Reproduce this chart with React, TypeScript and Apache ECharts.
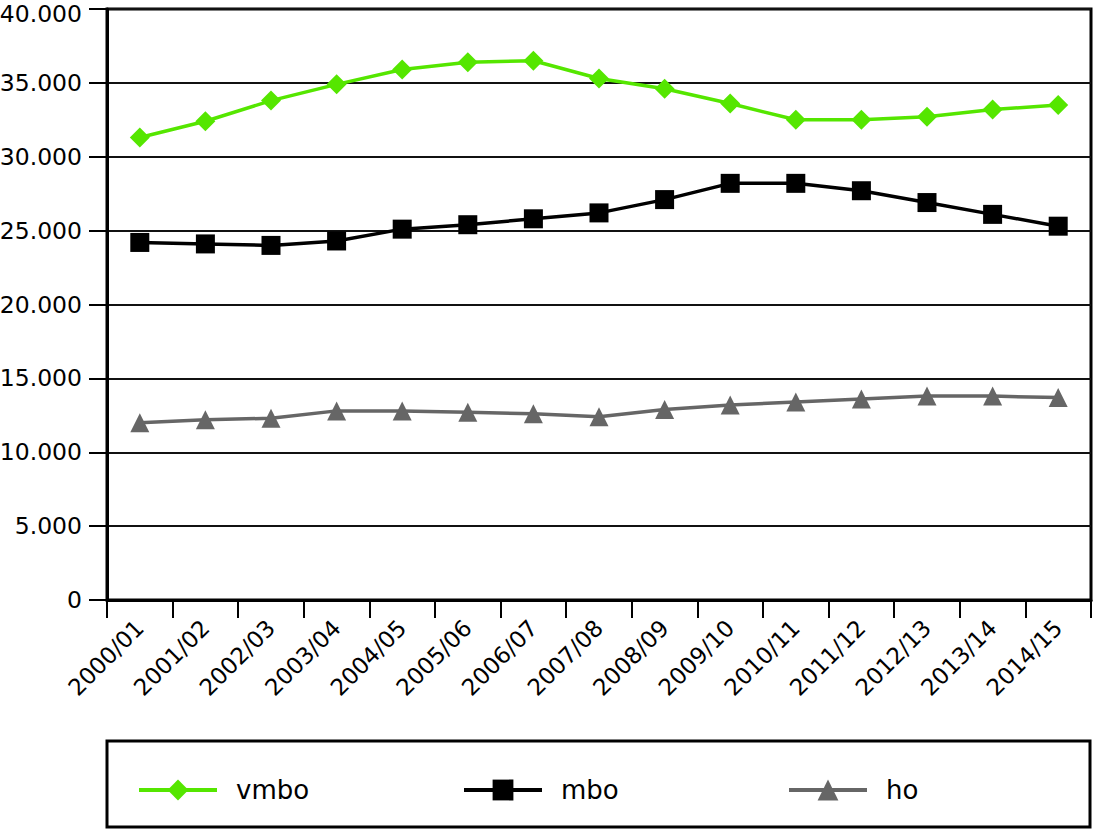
import React, { useEffect, useRef } from "react";
import * as echarts from "echarts";

const categories = [
  "2000/01", "2001/02", "2002/03", "2003/04", "2004/05", "2005/06", "2006/07", "2007/08",
  "2008/09", "2009/10", "2010/11", "2011/12", "2012/13", "2013/14", "2014/15",
];
const vmbo = [31300, 32400, 33800, 34900, 35900, 36400, 36500, 35300, 34600, 33600, 32500, 32500, 32700, 33200, 33500];
const mbo = [24200, 24100, 24000, 24300, 25100, 25400, 25800, 26200, 27100, 28200, 28200, 27700, 26900, 26100, 25300];
const ho = [12000, 12200, 12300, 12800, 12800, 12700, 12600, 12400, 12900, 13200, 13400, 13600, 13800, 13800, 13700];

const FONT = "DejaVu Sans";
const Y_MAX = 40000;

function fmt(v: number): string {
  return String(v).replace(/\B(?=(\d{3})+(?!\d))/g, ".");
}

export default function App() {
  const ref = useRef<HTMLDivElement>(null);
  useEffect(() => {
    if (!ref.current) return;
    const chart = echarts.init(ref.current, undefined, { renderer: "svg" });
    const legendBase = {
      orient: "horizontal" as const,
      top: 777,
      padding: 0,
      itemWidth: 78,
      itemHeight: 26,
      lineStyle: { width: 4 },
      textStyle: { fontFamily: FONT, fontSize: 26, color: "#000", padding: [0, 0, 0, 14] },
    };
    chart.setOption({
      animation: false,
      backgroundColor: "#fff",
      grid: {
        left: 107,
        top: 9,
        width: 984,
        height: 591,
        show: true,
        borderColor: "#000",
        borderWidth: 3,
        outerBoundsMode: "none",
        containLabel: false,
      },
      xAxis: {
        type: "category",
        data: categories,
        boundaryGap: true,
        axisLine: { lineStyle: { color: "#000", width: 3 } },
        axisTick: { show: true, length: 18, lineStyle: { color: "#000", width: 2 } },
        axisLabel: { rotate: 45, margin: 24, fontFamily: FONT, fontSize: 23, color: "#000", interval: 0 },
        splitLine: { show: false },
      },
      yAxis: {
        type: "value",
        min: 0,
        max: Y_MAX,
        interval: 5000,
        axisLine: { show: true, lineStyle: { color: "#000", width: 3 } },
        axisTick: { show: true, length: 18, lineStyle: { color: "#000", width: 2 } },
        axisLabel: {
          margin: 25,
          fontFamily: FONT,
          fontSize: 23.5,
          color: "#000",
          formatter: (v: number) => (v === Y_MAX ? `{top|${fmt(v)}}` : fmt(v)),
          rich: {
            top: { fontFamily: FONT, fontSize: 23.5, color: "#000", padding: [9, 0, 0, 0] },
          },
        },
        splitLine: { show: true, lineStyle: { color: "#111", width: 2 } },
      },
      legend: [
        { ...legendBase, left: 137, data: ["vmbo"] },
        { ...legendBase, left: 462, data: ["mbo"] },
        { ...legendBase, left: 787, data: ["ho"] },
      ],
      graphic: [
        {
          type: "rect",
          shape: { x: 107, y: 741, width: 983, height: 86 },
          style: { fill: "none", stroke: "#000", lineWidth: 3 },
        },
      ],
      series: [
        {
          name: "vmbo",
          type: "line",
          data: vmbo,
          symbol: "diamond",
          symbolSize: 20,
          itemStyle: { color: "#55e600" },
          lineStyle: { color: "#55e600", width: 3.5 },
        },
        {
          name: "mbo",
          type: "line",
          data: mbo,
          symbol: "rect",
          symbolSize: 19,
          itemStyle: { color: "#000" },
          lineStyle: { color: "#000", width: 3.5 },
        },
        {
          name: "ho",
          type: "line",
          data: ho,
          symbol: "triangle",
          symbolSize: 19,
          itemStyle: { color: "#666666" },
          lineStyle: { color: "#666666", width: 3.5 },
        },
      ],
    });
    return () => chart.dispose();
  }, []);
  return (
    <div
      ref={ref}
      style={{ position: "absolute", left: 0, top: 0, width: 1093, height: 831 }}
    />
  );
}
